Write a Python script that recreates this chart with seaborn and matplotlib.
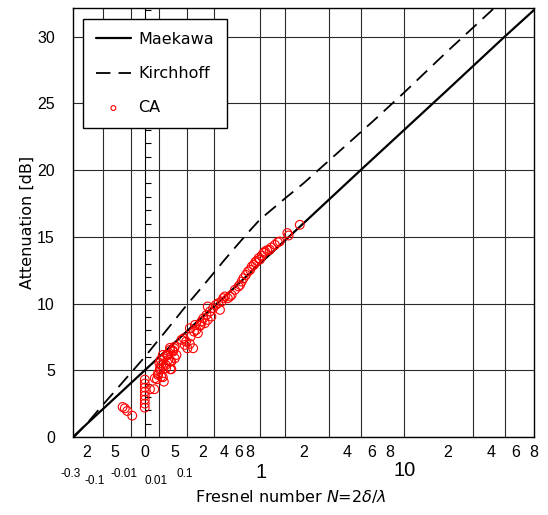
import numpy as np
import pandas as pd
import matplotlib
matplotlib.use("Agg")
import matplotlib.pyplot as plt
import matplotlib.transforms as mtransforms
import seaborn as sns

# ---------------- data ----------------
maekawa_N = [-0.322, -0.2, -0.1, -0.01, 0, 0.01, 0.1, 0.2, 0.5, 1, 2, 5, 10, 20, 50, 80]
maekawa_dB = [0.0, 0.98, 2.08, 4.03, 5.0, 5.97, 7.92, 9.03, 11.0, 13.0, 16.0, 20.0, 23.0, 26.0, 30.0, 32.0]

kirchhoff_N = [-0.322, -0.3, -0.2, -0.1, -0.05, -0.01, 0, 0.01, 0.02, 0.05, 0.1, 0.2, 0.4,
               0.6, 0.8, 1, 1.5, 2, 4, 6, 10, 20, 40, 50]
kirchhoff_dB = [0.0, 0.1, 1.0, 2.4, 3.4, 4.8, 6.0, 7.3, 7.8, 8.8, 9.9, 11.3, 13.2,
                14.5, 15.5, 16.3, 17.9, 19.0, 21.9, 23.6, 25.8, 28.9, 31.9, 32.9]

ca_N = [-0.026, -0.021, -0.016, -0.008,
        0, 0, 0, 0, 0, 0, 0, 0,
        0.0013, 0.0045, 0.005, 0.0075, 0.009, 0.009, 0.011, 0.012, 0.012, 0.013, 0.014, 0.014,
        0.017, 0.017, 0.019, 0.019, 0.023, 0.024, 0.026, 0.029, 0.029, 0.034, 0.034, 0.034,
        0.035, 0.038, 0.038, 0.043, 0.043, 0.047, 0.049, 0.049, 0.055,
        0.075, 0.085, 0.09, 0.096, 0.103, 0.116, 0.135, 0.12, 0.14, 0.155, 0.165, 0.116,
        0.146, 0.179, 0.19, 0.185, 0.205, 0.216, 0.23, 0.24, 0.258, 0.272, 0.24, 0.288,
        0.315, 0.34, 0.358, 0.376, 0.395, 0.414, 0.45, 0.477, 0.50, 0.546, 0.60, 0.623,
        0.65, 0.68, 0.72, 0.76, 0.798, 0.83, 0.87, 0.90, 0.93, 0.97, 1.0, 1.03, 1.06,
        1.084, 1.12, 1.17, 1.2, 1.27, 1.33, 1.37, 1.55, 1.58, 1.89]
ca_dB = [2.25, 2.15, 1.95, 1.6,
         4.3, 4.0, 3.7, 3.4, 3.1, 2.8, 2.5, 2.2,
         3.58, 3.58, 4.4, 4.33, 4.65, 4.78, 5.53, 5.15, 5.03, 5.78, 4.52, 5.4,
         6.15, 4.48, 4.15, 5.9, 5.4, 5.15, 6.15, 5.78, 6.15, 6.68, 5.65, 6.53,
         5.08, 5.65, 5.08, 6.4, 6.48, 6.65, 6.77, 5.9, 6.15,
         7.28, 7.4, 6.9, 7.15, 6.65, 6.98, 6.65, 7.52, 7.9, 8.03, 7.78, 8.15,
         8.4, 8.33, 8.65, 8.4, 8.9, 8.53, 9.15, 8.78, 9.4, 9.03, 9.78, 9.65,
         9.9, 10.03, 9.53, 10.15, 10.4, 10.53, 10.4, 10.53, 10.65, 11.03, 11.28, 11.4,
         11.65, 11.9, 12.15, 12.4, 12.53, 12.78, 12.9, 13.1, 13.2, 13.4, 13.3, 13.6, 13.8,
         13.9, 14.0, 14.03, 14.2, 14.4, 14.6, 14.65, 15.28, 15.1, 15.9]

grid_N = [-0.2, -0.1, -0.05, -0.01, 0, 0.01, 0.05, 0.1, 0.2, 0.3, 0.4, 0.6, 0.8, 1,
          1.5, 2, 3, 4, 5, 6, 8, 10, 20, 30, 40, 50, 60, 80]
row1_N = [-0.2, -0.05, 0, 0.05, 0.2, 0.4, 0.6, 0.8, 2, 4, 6, 8, 20, 40, 60, 80]
row1_labels = ["2", "5", "0", "5", "2", "4", "6", "8", "2", "4", "6", "8", "2", "4", "6", "8"]
row2_N = [-0.3, -0.1, -0.01, 0.01, 0.1]
row2_labels = ["-0.3", "-0.1", "-0.01", "0.01", "0.1"]
row3_N = [1, 10]
row3_labels = ["1", "10"]
y_ticks = [0, 5, 10, 15, 20, 25, 30]

# ------------- axis scale (Maekawa chart abscissa) -------------
C = 8.0 / np.arcsinh(1.0)


def fwd(n):
    n = np.asarray(n, dtype=float)
    with np.errstate(all="ignore"):
        big = 10 * np.log10(np.clip(n, 1.0, None)) + 13
        small = 5 + np.sign(n) * C * np.arcsinh(np.abs(n) ** 0.485)
    return np.where(n >= 1, big, small)


def inv(x):
    x = np.asarray(x, dtype=float)
    with np.errstate(all="ignore"):
        big = 10 ** ((np.clip(x, 13, 60) - 13) / 10)
        small = np.sign(x - 5) * np.sinh(np.clip(np.abs(x - 5), 0, 50) / C) ** (1 / 0.485)
    return np.where(x >= 13, big, small)


# ---------------- plot ----------------
sns.set_style("white")
plt.rcParams["font.family"] = ["DejaVu Sans"]
plt.rcParams["mathtext.fontset"] = "dejavusans"
plt.rcParams["text.color"] = "black"
plt.rcParams["axes.labelcolor"] = "black"
plt.rcParams["xtick.color"] = "black"
plt.rcParams["ytick.color"] = "black"
NUM_FONT = ["Liberation Sans", "DejaVu Sans"]

fig = plt.figure(figsize=(5.48, 5.15), dpi=100, facecolor="white")
ax = fig.add_axes([73 / 548, 1 - 437 / 515, 461 / 548, 429 / 515])
ax.set_xscale("function", functions=(fwd, inv))

mk = pd.DataFrame({"N": maekawa_N, "dB": maekawa_dB})
kh = pd.DataFrame({"N": kirchhoff_N, "dB": kirchhoff_dB})
ca = pd.DataFrame({"N": ca_N, "dB": ca_dB})

sns.lineplot(data=mk, x="N", y="dB", ax=ax, color="black", lw=1.6, label="Maekawa",
             estimator=None, sort=True, zorder=3)
sns.lineplot(data=kh, x="N", y="dB", ax=ax, color="black", lw=1.3, label="Kirchhoff",
             estimator=None, sort=True, zorder=3)
ax.lines[-1].set_linestyle((0, (8, 4.5)))
sns.scatterplot(data=ca, x="N", y="dB", ax=ax, marker="o", s=40, facecolors="none",
                edgecolor="red", linewidth=0.8, label="CA", zorder=4)

ax.set_xlim(-0.322, 80)
ax.set_ylim(0, 32.15)

ax.set_xticks(row1_N, row1_labels)
ax.set_xticks(grid_N, minor=True)
ax.set_yticks(y_ticks)
ax.tick_params(axis="x", which="both", length=0, pad=6, labelsize=11.5, labelcolor="black")
ax.tick_params(axis="y", which="both", length=0, pad=13, labelsize=11.5, labelcolor="black")
for lab in ax.get_xticklabels() + ax.get_yticklabels():
    lab.set_fontfamily(NUM_FONT)
ax.set_axisbelow(True)
ax.grid(axis="x", which="minor", color="#2a2a2a", lw=0.8)
ax.grid(axis="x", which="major", visible=False)
ax.grid(axis="y", which="major", color="#2a2a2a", lw=0.8)
for s in ax.spines.values():
    s.set_color("black")
    s.set_linewidth(1.0)

# second-row tick labels
base = mtransforms.blended_transform_factory(ax.transData, ax.transAxes)
row2_dx = [-5, -8, -7, -3, -2]
row2_dy = [-37, -44.5, -37, -44.5, -37]
for n, lab, dx, dy in zip(row2_N, row2_labels, row2_dx, row2_dy):
    tr = mtransforms.offset_copy(base, fig=fig, x=dx, y=dy, units="dots")
    ax.text(n, 0, lab, transform=tr, ha="center", va="center", fontsize=8.5,
            family=NUM_FONT, color="black")
row3_dx = [1, 1]
row3_dy = [-36, -34]
for n, lab, dx, dy in zip(row3_N, row3_labels, row3_dx, row3_dy):
    tr = mtransforms.offset_copy(base, fig=fig, x=dx, y=dy, units="dots")
    ax.text(n, 0, lab, transform=tr, ha="center", va="center", fontsize=14.5,
            family=NUM_FONT, color="black")

# small ticks on N = 0 line (pointing right, beneath the main axes content)
ax2 = ax.twinx()
ax2.set_ylim(ax.get_ylim())
for k in ["top", "bottom", "left"]:
    ax2.spines[k].set_visible(False)
ax2.spines["right"].set_position(("data", 0))
ax2.spines["right"].set_linewidth(0.8)
ax2.spines["right"].set_color("black")
ax2.yaxis.set_ticks_position("right")
ax2.set_yticks(np.arange(1, 33, 1))
ax2.tick_params(axis="y", direction="out", length=4, width=0.8, color="black",
                labelleft=False, labelright=False)
ax.set_zorder(ax2.get_zorder() + 1)
ax.patch.set_visible(False)

ax.set_xlabel(r"Fresnel number $N$=2$\delta$/$\lambda$", fontsize=11.5, color="black")
ax.xaxis.set_label_coords(0.472, -0.118)
ax.set_ylabel("Attenuation [dB]", fontsize=11.5, color="black")
ax.yaxis.set_label_coords(-0.083, 0.5)

leg = ax.legend(loc="upper left", bbox_to_anchor=(0.0217, 0.974), borderaxespad=0,
                fontsize=11.5, frameon=True, fancybox=False, framealpha=1, edgecolor="black",
                handlelength=2.2, handletextpad=0.45, labelspacing=1.2, borderpad=0.8,
                markerscale=0.55)
leg.get_frame().set_linewidth(1.0)
leg.set_zorder(10)
for t in leg.get_texts():
    t.set_color("black")

fig.savefig("out.png", dpi=100, facecolor="white")
